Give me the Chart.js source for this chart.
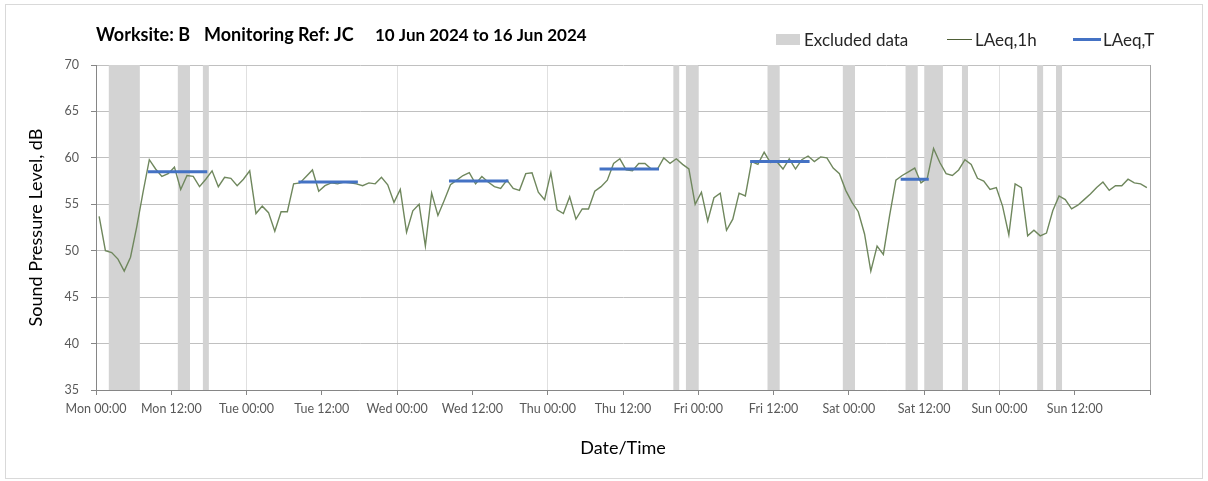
<!DOCTYPE html>
<html><head><meta charset="utf-8">
<script src="https://cdn.jsdelivr.net/npm/chart.js@4/dist/chart.umd.min.js"></script>
<style>html,body{margin:0;padding:0;background:#fff;}canvas{display:block;}</style>
</head><body>
<canvas id="c" width="1208" height="481"></canvas>
<script>
// ---- data ----
const titleParts = ['Worksite: B', 'Monitoring Ref: JC', '10 Jun 2024 to 16 Jun 2024'];
const xTickLabels = ['Mon 00:00','Mon 12:00','Tue 00:00','Tue 12:00','Wed 00:00','Wed 12:00','Thu 00:00','Thu 12:00','Fri 00:00','Fri 12:00','Sat 00:00','Sat 12:00','Sun 00:00','Sun 12:00'];
const yTickValues = [35,40,45,50,55,60,65,70];
// hourly LAeq,1h values, hour 0 = Mon 00:00
const laeq1h = [
 53.7,50.0,49.8,49.1,47.8,49.3,52.6,56.3,59.8,58.8,58.0,58.3,59.0,56.6,58.1,58.0,56.9,57.7,58.6,56.9,57.9,57.8,57.0,57.7,
 58.6,54.0,54.8,54.1,52.1,54.2,54.2,57.2,57.3,58.0,58.7,56.4,57.0,57.3,57.2,57.4,57.3,57.2,57.0,57.3,57.2,57.9,57.1,55.2,
 56.6,52.0,54.3,55.0,50.5,56.2,53.8,55.4,57.1,57.6,58.1,58.4,57.2,58.0,57.4,56.9,56.7,57.6,56.7,56.5,58.3,58.4,56.3,55.5,
 58.4,54.4,54.0,55.8,53.4,54.5,54.5,56.4,56.9,57.6,59.4,59.9,58.7,58.6,59.4,59.4,58.8,58.8,60.0,59.4,59.9,59.3,58.8,55.0,
 56.3,53.2,55.7,56.2,52.2,53.4,56.2,55.9,59.6,59.3,60.6,59.5,59.6,58.8,59.9,58.8,59.8,60.2,59.6,60.1,60.0,58.9,58.3,56.5,
 55.2,54.2,51.8,47.8,50.5,49.6,53.8,57.6,58.1,58.5,58.9,57.3,57.8,61.0,59.5,58.3,58.1,58.7,59.8,59.3,57.8,57.5,56.6,56.8,
 54.8,51.7,57.2,56.8,51.6,52.2,51.6,51.9,54.3,55.9,55.5,54.5,54.9,55.5,56.1,56.8,57.4,56.5,57.0,57.0,57.7,57.3,57.2,56.8
];
// LAeq,T periods (hours from Mon 00:00)
const laeqTStart = [8.5, 32.5, 56.5, 80.5, 104.5, 128.5];
const laeqTEnd   = [17.5, 41.5, 65.5, 89.5, 113.5, 132.5];
const laeqTValue = [58.5, 57.4, 57.5, 58.8, 59.6, 57.7];
// excluded periods (hours from Mon 00:00)
const excludedStart = [2, 13, 17, 92, 94, 107, 119, 129, 132, 138, 150, 153];
const excludedEnd   = [7, 15, 18, 93, 96, 109, 121, 131, 135, 139, 151, 154];

// ---- styles ----
const FONT = 'Lato, "Open Sans", sans-serif';
const GREEN = '#6f875d';
const BLUE = '#4472c4';
const GREY_FILL = '#d3d3d3';

const datasets = [];
const tPts = [];
laeqTStart.forEach((s, i) => {
  tPts.push({x: s, y: laeqTValue[i]}, {x: laeqTEnd[i], y: laeqTValue[i]}, {x: laeqTEnd[i], y: null});
});
datasets.push({label: 'LAeq,T', data: tPts, borderColor: BLUE, borderWidth: 3, borderCapStyle: 'square',
  pointRadius: 0, spanGaps: false, fill: false, order: 0});
datasets.push({label: 'LAeq,1h', data: laeq1h.map((v, i) => ({x: i + 0.5, y: v})), borderColor: GREEN,
  borderWidth: 1.4, pointRadius: 0, tension: 0, fill: false, order: 1});
excludedStart.forEach((s, i) => {
  datasets.push({label: 'Excluded data', data: [{x: s, y: 70}, {x: excludedEnd[i], y: 70}], borderWidth: 0,
    borderColor: 'rgba(0,0,0,0)', backgroundColor: GREY_FILL, pointRadius: 0, fill: 'start', order: 2});
});

const decor = {
  id: 'decor',
  afterDraw(chart) {
    const ctx = chart.ctx, a = chart.chartArea;
    ctx.save();
    // outer frame
    ctx.strokeStyle = '#d9d9d9'; ctx.lineWidth = 1;
    ctx.strokeRect(5.5, 4.5, 1197, 474);
    // plot right border
    ctx.strokeStyle = '#a6a6a6';
    ctx.beginPath(); ctx.moveTo(Math.round(a.right) + 0.5, a.top); ctx.lineTo(Math.round(a.right) + 0.5, a.bottom); ctx.stroke();
    // title
    ctx.fillStyle = '#000'; ctx.textBaseline = 'alphabetic'; ctx.textAlign = 'left';
    ctx.font = 'bold 18px ' + FONT;
    ctx.fillText(titleParts[0], 96, 41);
    ctx.fillText(titleParts[1], 204, 41);
    ctx.font = 'bold 17px ' + FONT;
    ctx.fillText(titleParts[2], 375, 41);
    // legend
    ctx.font = '17px ' + FONT;
    ctx.fillStyle = GREY_FILL; ctx.fillRect(776, 34, 24, 11);
    ctx.fillStyle = '#262626'; ctx.fillText('Excluded data', 804, 46);
    ctx.strokeStyle = '#4e5e36'; ctx.lineWidth = 1;
    ctx.beginPath(); ctx.moveTo(947, 39.5); ctx.lineTo(972, 39.5); ctx.stroke();
    ctx.fillText('LAeq,1h', 975, 46);
    ctx.strokeStyle = BLUE; ctx.lineWidth = 3;
    ctx.beginPath(); ctx.moveTo(1073, 39.5); ctx.lineTo(1101, 39.5); ctx.stroke();
    ctx.fillText('LAeq,T', 1103, 46);
    ctx.restore();
  }
};

new Chart(document.getElementById('c'), {
  type: 'line',
  data: {datasets},
  options: {
    responsive: false, animation: false, devicePixelRatio: 1,
    layout: {padding: {top: 65, right: 58, bottom: 0, left: 0}},
    plugins: {legend: {display: false}, tooltip: {enabled: false}, title: {display: false}},
    scales: {
      x: {
        type: 'linear', min: 0, max: 168,
        afterBuildTicks: s => { s.ticks = xTickLabels.map((_, i) => ({value: i * 12})).concat([{value: 168}]); },
        afterFit: s => { s.height = 91; },
        ticks: {autoSkip: false, maxRotation: 0, padding: 6, color: '#595959', font: {family: FONT, size: 12.5},
          callback: v => xTickLabels[v / 12] || ''},
        grid: {color: c => (c.tick && c.tick.value % 24 === 0 && c.tick.value > 0 && c.tick.value < 168) ? '#e0e0e0' : 'rgba(0,0,0,0)',
          tickColor: '#868686', tickLength: 5, lineWidth: 1},
        border: {color: '#868686', width: 1},
        title: {display: true, text: 'Date/Time', color: '#000', font: {family: FONT, size: 18}, padding: {top: 0, bottom: 22}}
      },
      y: {
        min: 35, max: 70,
        afterBuildTicks: s => { s.ticks = yTickValues.map(v => ({value: v})); },
        afterFit: s => { s.width = 96; },
        ticks: {padding: 12, color: '#595959', font: {family: FONT, size: 12.5}},
        grid: {color: '#c0c0c0', tickColor: '#868686', tickLength: 5, lineWidth: 1},
        border: {color: '#868686', width: 1},
        title: {display: true, text: 'Sound Pressure Level, dB', color: '#000', font: {family: FONT, size: 18}, padding: {top: 25, bottom: 0}}
      }
    }
  },
  plugins: [decor]
});
</script>
</body></html>
